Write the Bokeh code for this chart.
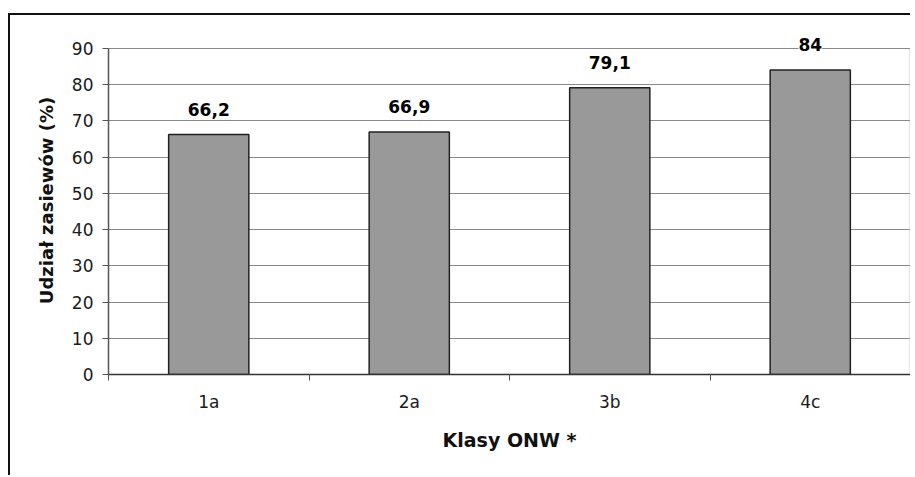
from bokeh.plotting import figure
from bokeh.models import Range1d, FixedTicker, ColumnDataSource, LabelSet, LinearAxis
from bokeh.core.properties import value
from bokeh.embed import file_html
from bokeh.resources import INLINE

categories = ["1a", "2a", "3b", "4c"]
values = [66.2, 66.9, 79.1, 84.0]
value_labels = ["66,2", "66,9", "79,1", "84"]
y_ticks = [0, 10, 20, 30, 40, 50, 60, 70, 80, 90]
y_max = 90

FONT = "DejaVu Sans"

xs = [i + 0.5 for i in range(len(categories))]
src = ColumnDataSource(dict(x=xs, top=values, lab=value_labels))

p = figure(width=902, height=462, output_backend="svg", toolbar_location=None,
           x_range=Range1d(0, len(categories)), y_range=Range1d(0, 96),
           min_border_left=98, min_border_right=2, min_border_top=11, min_border_bottom=103,
           background_fill_color="white", border_fill_color="white")
p.styles = {"border-left": "2px solid #111111", "border-top": "2px solid #111111",
            "margin-top": "13px", "margin-left": "8px"}

p.outline_line_color = None

p.vbar(x="x", top="top", width=0.4, bottom=0, source=src,
       fill_color="#999999", line_color="#222222", line_width=1.5)

labels = LabelSet(x="x", y="top", text="lab", source=src, text_align="center",
                  text_baseline="alphabetic", y_offset=19, text_font=value(FONT),
                  text_font_size="17px", text_font_style="bold", text_color="#000000",
                  background_fill_color="white")
p.add_layout(labels)

# y axis
p.yaxis.ticker = FixedTicker(ticks=y_ticks)
p.yaxis.bounds = (0, y_max)
p.yaxis.major_tick_out = 6
p.yaxis.major_tick_in = 0
p.yaxis.minor_tick_out = 0
p.yaxis.minor_tick_in = 0
p.yaxis.major_label_standoff = 9
p.yaxis.major_label_text_font = FONT
p.yaxis.major_label_text_font_size = "17px"
p.yaxis.major_label_text_color = "#1a1a1a"
p.yaxis.axis_line_color = "#555555"
p.yaxis.axis_line_width = 1.5
p.yaxis.major_tick_line_color = "#555555"
p.yaxis.axis_label = "Udział zasiewów (%)"
p.yaxis.axis_label_text_font = FONT
p.yaxis.axis_label_text_font_size = "18px"
p.yaxis.axis_label_text_font_style = "bold"
p.yaxis.axis_label_text_color = "#111111"
p.yaxis.axis_label_standoff = 12

# right border line of plot area
right = LinearAxis(ticker=FixedTicker(ticks=[]), bounds=(0, y_max),
                   axis_line_color="#9a9a9a", axis_line_width=1.5,
                   major_tick_line_color=None, minor_tick_line_color=None,
                   major_label_text_font_size="0px")
p.add_layout(right, "right")

# x axis
p.xaxis.ticker = FixedTicker(ticks=xs, minor_ticks=list(range(len(categories) + 1)))
p.xaxis.major_label_overrides = {x: c for x, c in zip(xs, categories)}
p.xaxis.major_tick_out = 0
p.xaxis.major_tick_in = 0
p.xaxis.minor_tick_out = 6
p.xaxis.minor_tick_in = 0
p.xaxis.minor_tick_line_color = "#555555"
p.xaxis.major_label_standoff = 11
p.xaxis.major_label_text_font = FONT
p.xaxis.major_label_text_font_size = "17px"
p.xaxis.major_label_text_color = "#1a1a1a"
p.xaxis.axis_line_color = "#333333"
p.xaxis.axis_line_width = 1.5
p.xaxis.axis_label = "Klasy ONW *"
p.xaxis.axis_label_text_font = FONT
p.xaxis.axis_label_text_font_size = "19px"
p.xaxis.axis_label_text_font_style = "bold"
p.xaxis.axis_label_text_color = "#111111"
p.xaxis.axis_label_standoff = 14

p.xgrid.grid_line_color = None
p.ygrid.ticker = FixedTicker(ticks=y_ticks)
p.ygrid.grid_line_color = "#8a8a8a"
p.ygrid.grid_line_width = 1.2

open("out.html", "w").write(file_html(p, INLINE))
